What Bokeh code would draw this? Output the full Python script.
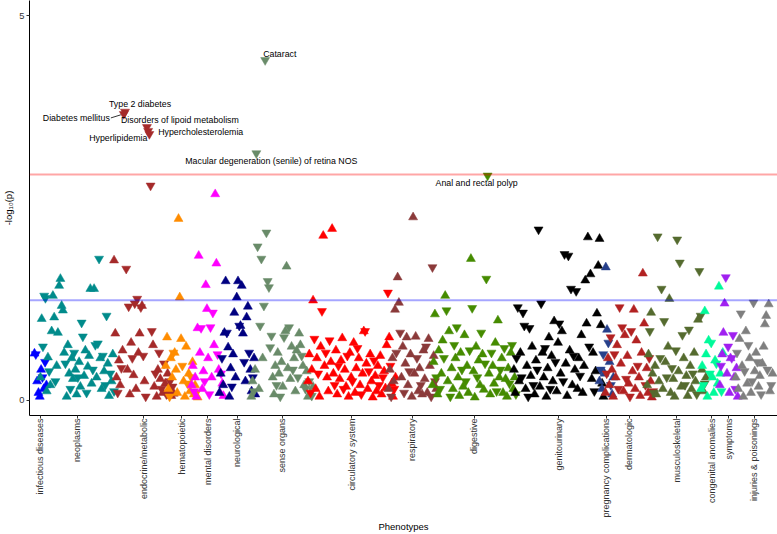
import numpy as np
from bokeh.plotting import figure
from bokeh.models import ColumnDataSource, Range1d, FixedTicker, Span
from bokeh.embed import file_html
from bokeh.resources import INLINE
from bokeh.core.properties import value

# ---------------- data ----------------
# Phenotype groups, in phecode order, their colours and the span of phenotype positions they occupy
categories = ["infectious diseases", "neoplasms", "endocrine/metabolic", "hematopoietic",
              "mental disorders", "neurological", "sense organs", "circulatory system",
              "respiratory", "digestive", "genitourinary", "pregnancy complications",
              "dermatologic", "musculoskeletal", "congenital anomalies", "symptoms",
              "injuries & poisonings"]
group_colors = ["#0000FF", "#008B8B", "#A52A2A", "#FF8C00", "#FF00FF", "#000080", "#698B69",
                "#FF0000", "#8B3A3A", "#458B00", "#000000", "#27408B", "#B22222", "#556B2F",
                "#00FA9A", "#A020F0", "#7F7F7F"]
group_start = [30, 36, 110, 162, 188, 216, 248, 305, 386, 430, 512, 598, 604, 646, 700, 719, 735]
group_end = [42, 110, 170, 194, 220, 252, 310, 393, 434, 514, 602, 612, 652, 705, 722, 737, 772]

# signed -log10(p): sign = direction of effect (+ up triangle, - down triangle)
infectious = [0.61, -0.60, 0.25, 0.10, 0.05, 0.40, -0.30, 0.15, -0.50, 0.20]
neoplasms = [0.30, 1.06, -0.70, -1.36, -1.33, 0.12, 0.56, -0.38, 0.20, 0.90, 1.36, 1.08, -0.25,
             0.45, 0.88, 1.49, 1.58, 1.23, 1.17, 0.62, -0.48, 0.05, 0.72, 0.35, -0.15, 0.55,
             0.28, -0.62, 0.40, 0.08, -0.30, 0.50, 0.18, -1.01, -0.83, 0.32, 0.65, -0.10, 0.44,
             0.58, 1.45, 0.22, -0.40, 1.45, -0.72, 0.30, -0.74, -1.84, 0.55, 0.15, -0.58, 0.38,
             -0.20, -1.10, 0.48, 0.06, -0.35, 0.25, 0.60, -0.12]
endocrine = [1.82, 0.87, 0.30, -0.10, 0.52, 0.20, -0.42, 0.65, -3.72, -3.75, -1.71, 0.40, -1.22,
             0.08, 0.75, -0.55, 0.33, -1.26, 0.15, -1.32, 0.62, 0.87, -1.21, 1.23, -0.58, 0.25,
             -0.05, -3.55, -3.50, -3.46, -2.79, -0.90, 0.72, 0.18, -0.35, 0.05, 0.40, -0.62,
             0.28, -0.15, 0.10, -0.48, 0.22, -0.08, 0.35, 0.12, -0.25, 0.06, -0.18, 0.09]
hematopoietic = [0.45, 0.82, 0.15, -0.05, 0.55, 0.30, -0.62, 0.62, 0.40, 0.10, 2.36, 1.34, 0.80,
                 -0.45, 0.25, 0.05, 0.70, -0.22, 0.35, 0.12, -0.30, 0.50, 0.08, 0.20, -0.10, 0.04]
mental = [0.20, 0.45, -0.12, 0.30, 0.05, 0.94, 1.88, 0.62, -0.94, 0.15, 0.38, -0.25, 1.50, 1.19,
          0.55, -0.08, -0.95, 0.30, -1.14, 0.72, 2.68, 1.78, -0.60, 0.40, 0.10, -0.35, 0.22, 0.06]
neurological = [0.10, 0.35, -0.55, 0.20, 0.88, 1.55, -0.88, 0.69, 0.05, 0.42, -0.18, 0.60, 1.14,
                0.30, 1.34, 1.55, -0.97, 0.97, 1.49, 0.87, -0.50, 0.25, 1.08, 1.22, -0.62, 0.40,
                0.12, -0.30, 0.55, 0.08]
sense = [0.05, 0.25, -0.12, 0.40, -3.21, -2.00, 0.15, -0.97, -1.84, 0.55, -1.23, -4.42, -2.18,
         -1.55, -1.47, -0.69, -0.84, 0.30, 0.08, 0.45, -0.20, 0.62, 0.35, -0.05, 0.50, 0.18,
         -0.82, 0.90, 1.74, 0.42, -0.95, 0.28, 0.70, -0.40, 0.55, 0.12, 0.65, -0.30, 0.87, 0.72,
         -0.58, 0.45, 0.20, -0.15, 0.38, 0.05, -0.25, 0.10, -0.06, 0.18]
circulatory = [0.25, 0.60, -0.10, 0.40, 1.30, -0.80, 0.15, 0.55, -0.35, 0.05, 0.70, -1.16, 2.14,
               0.45, -0.62, 0.30, 0.12, -0.78, 0.50, 2.23, 0.35, -0.20, 0.65, 0.08, -0.45, 0.28,
               0.52, 0.81, -0.15, 0.40, 0.18, -0.58, 0.05, 0.62, 0.30, -0.25, 0.75, 0.10, 0.42,
               -0.68, 0.55, 0.20, -0.08, 0.35, 0.90, -0.90, 0.48, 0.15, -0.38, 0.60, 0.25, 0.04,
               -0.52, 0.32, 0.12, 0.45, -0.20, 0.58, 0.08, -0.30, 0.38, 0.16, 0.72, -1.40, 0.82,
               -0.45, 0.22, 0.05, -0.15, 0.30]
respiratory = [0.15, 0.40, -0.05, 0.55, 0.25, 1.18, -0.62, 1.60, 1.27, -0.88, 0.30, 0.70, -0.10,
               0.48, 0.82, 0.20, -0.38, 0.60, 0.05, 2.38, 0.35, 0.83, -0.55, 0.12, 0.42, -0.20,
               0.08, 0.65, 0.28, -0.70, 0.10, 0.80, 0.45, -0.05, -1.73, 0.58, -0.25, 0.15]
digestive = [0.20, 0.50, 1.12, -0.30, 0.08, 0.65, -0.15, 0.35, 0.78, -0.55, 1.36, -1.17, 0.25,
             0.90, -0.05, 0.42, 0.15, -0.72, 0.55, -0.95, 0.30, 0.06, 0.62, -0.40, 0.18, 0.85,
             -0.25, 0.45, 0.10, -0.65, 1.84, -1.20, 0.38, 0.04, 0.70, -0.30, 0.52, 0.20, -0.88,
             0.60, 0.14, -0.48, -1.58, -2.92, 0.35, 0.08, -0.62, 0.45, 0.22, 0.75, -0.12, 1.04,
             0.30, -0.40, 0.55, 0.10, -0.68, 0.28, 0.05, 0.42, -0.22, 0.62, -0.72, 0.15, 0.30,
             -0.08]
genitourinary = [0.40, 0.10, -0.55, -1.21, 0.25, 0.62, -0.30, -1.14, -0.97, 0.15, 0.45, -0.05,
                 -0.94, 0.32, 0.70, -0.20, 0.08, 0.52, -0.40, -2.22, 0.18, -1.26, 0.62, 0.30,
                 -0.68, 0.05, 0.42, 0.82, -0.15, 0.58, 0.25, 1.03, -0.50, 0.12, 0.75, -1.00, 0.35,
                 0.90, -0.25, -1.90, 0.48, 0.06, -1.88, 0.65, -1.45, 0.20, -0.58, 0.40, -1.42,
                 0.15, 0.55, -0.32, 0.85, 0.10, 0.45, 1.56, 1.00, 2.12, -0.70, 1.64, 0.28, 0.62,
                 -0.12, 0.38, 1.13, 1.75, 2.10, 0.98, 0.22, 0.05]
pregnancy = [0.25, -0.40, 0.15, -0.60, 0.35, 1.73, 0.92, -0.75, 0.50, -0.20, 0.08, 0.30]
dermatologic = [0.10, -0.35, 0.55, 0.20, -0.82, 0.40, 0.05, -0.60, 0.30, 0.72, -0.15, -1.21,
                0.48, -0.95, 0.12, 0.85, -0.28, 0.58, 0.22, -0.05, -0.90, 0.38, 1.18, 0.15, 0.78,
                -0.45, 0.30, 0.06, 0.62, 1.65, 1.00, -0.20, 0.42, 0.10, -0.55, 0.25, 0.04, -0.12]
musculoskeletal = [0.20, 0.60, -0.90, 1.14, 0.35, -0.10, 0.45, 0.08, -2.13, 0.25, -0.55, -1.45,
                   0.15, -1.03, 0.50, -0.30, 0.70, 1.32, 0.10, -0.42, 0.28, 0.05, -0.65, -2.09,
                   0.38, -1.79, 0.18, -0.85, 0.55, -0.20, 0.32, 0.06, -0.92, 0.45, 0.15, -0.35,
                   0.62, 0.25, -0.08, 1.05, -1.68, -1.10, 0.40, 0.12, -0.22, 0.30]
congenital = [0.15, 0.45, -0.20, 1.16, 0.60, 0.05, 0.78, -0.35, -0.75, 0.30, 0.10, 0.52, -0.48,
              0.22, 1.48, 0.35, -0.12, 0.62]
symptoms = [0.20, -0.45, 0.60, 0.88, 1.26, -1.60, 0.35, -0.70, 0.10, 0.55, -0.55, -0.85, 0.30,
            -0.15, 0.42, 0.05]
injuries = [0.30, -0.62, 0.15, 0.80, -1.13, 0.45, 0.05, -0.38, 0.90, 0.22, -0.72, 0.55, 0.10,
            -0.25, -1.27, 0.38, 0.62, -0.50, 0.18, 0.32, -0.08, 0.48, 0.70, 0.99, 1.10, -0.40,
            1.25, 0.12, -0.20, 0.35]
group_values = [infectious, neoplasms, endocrine, hematopoietic, mental, neurological, sense,
                circulatory, respiratory, digestive, genitourinary, pregnancy, dermatologic,
                musculoskeletal, congenital, symptoms, injuries]

# significance thresholds (-log10 p)
bonferroni_line = 2.935
nominal_line = 1.301

# annotated phenotypes: group, index within group, text
label_text = ["Cataract", "Type 2 diabetes", "Diabetes mellitus", "Disorders of lipoid metabolism",
              "Hypercholesterolemia", "Hyperlipidemia", "Macular degeneration (senile) of retina NOS",
              "Anal and rectal polyp"]
label_group = [6, 2, 2, 2, 2, 2, 6, 9]
label_index = [11, 9, 8, 27, 28, 29, 4, 43]

# ---------------- build ----------------
xs, ys, mk, cl = [], [], [], []
pos_by_group = []
for g, vals in enumerate(group_values):
    pos = np.linspace(group_start[g], group_end[g], len(vals))
    pos_by_group.append(pos)
    for x, v in zip(pos, vals):
        xs.append(float(x))
        ys.append(abs(v))
        mk.append("triangle" if v > 0 else "inverted_triangle")
        cl.append(group_colors[g])
src = ColumnDataSource(dict(x=xs, y=ys, marker=mk, color=cl))

tick_pos = [round(float(np.mean(p)), 2) for p in pos_by_group]

FONT = "Liberation Sans"

p = figure(width=777, height=534, x_range=Range1d(25, 777), y_range=Range1d(-0.195, 5.195),
           output_backend="svg", toolbar_location=None,
           min_border_left=25, min_border_right=0, min_border_top=0, min_border_bottom=119)
p.outline_line_color = None
p.xgrid.visible = False
p.ygrid.visible = False
p.background_fill_color = "white"

p.scatter("x", "y", source=src, marker="marker", size=9, fill_color="color",
          line_color="color", line_width=0.5)

for loc, colr in [(bonferroni_line, "red"), (nominal_line, "blue")]:
    p.add_layout(Span(location=loc, dimension="width", line_color=colr, line_alpha=0.35,
                      line_width=2))

# labels
lx, ly, lt, dx, dy, al = [], [], [], [], [], []
offsets = {"Cataract": (-2, -6, "left"), "Type 2 diabetes": (15, -8, "center"),
           "Diabetes mellitus": (-14, 4, "right"), "Disorders of lipoid metabolism": (33, -7, "center"),
           "Hypercholesterolemia": (10, 1, "left"), "Hyperlipidemia": (-2, 4, "right"),
           "Macular degeneration (senile) of retina NOS": (15, 8, "center"),
           "Anal and rectal polyp": (-11, 7, "center")}
for t, g, i in zip(label_text, label_group, label_index):
    lx.append(float(pos_by_group[g][i]))
    ly.append(abs(group_values[g][i]))
    lt.append(t)
    ox, oy, a = offsets[t]
    dx.append(ox); dy.append(oy); al.append(a)
lsrc = ColumnDataSource(dict(x=lx, y=ly, text=lt, dx=dx, dy=dy, align=al))
p.text("x", "y", text="text", source=lsrc, x_offset="dx", y_offset="dy", text_align="align",
       text_baseline="middle", text_font=value(FONT), text_font_size="8.8px", text_color="black")

# leader line for Diabetes mellitus
dm = label_text.index("Diabetes mellitus")
p.segment(x0=[lx[dm] - 13.0], y0=[ly[dm] - 0.05], x1=[lx[dm] - 3.0], y1=[ly[dm] - 0.01],
          line_color="black", line_width=0.8)

# axes
xa = p.xaxis[0]
xa.ticker = FixedTicker(ticks=tick_pos)
xa.major_label_overrides = {t: c for t, c in zip(tick_pos, categories)}
xa.major_label_orientation = np.pi / 2
xa.minor_tick_line_color = None
xa.major_tick_out = 3
xa.major_tick_in = 0
xa.major_label_standoff = 0
xa.axis_line_color = "black"
xa.major_tick_line_color = "#333333"
xa.major_label_text_font = FONT
xa.major_label_text_font_size = "9px"
xa.major_label_text_color = "#333333"
xa.axis_label = "Phenotypes"
xa.axis_label_standoff = 0
xa.axis_label_text_font = FONT
xa.axis_label_text_font_size = "9.5px"
xa.axis_label_text_font_style = "normal"
xa.axis_label_text_color = "black"

ya = p.yaxis[0]
ya.ticker = FixedTicker(ticks=[0, 5])
ya.minor_tick_line_color = None
ya.major_tick_out = 3
ya.major_tick_in = 0
ya.major_label_standoff = 2
ya.axis_line_color = "black"
ya.major_tick_line_color = "#333333"
ya.major_label_text_font = FONT
ya.major_label_text_font_size = "9.3px"
ya.major_label_text_color = "#333333"
ya.axis_label = "-log\u2081\u2080(p)"
ya.axis_label_standoff = 2
ya.axis_label_text_font = FONT
ya.axis_label_text_font_size = "9.5px"
ya.axis_label_text_font_style = "normal"
ya.axis_label_text_color = "black"

open("out.html", "w").write(file_html(p, INLINE))
